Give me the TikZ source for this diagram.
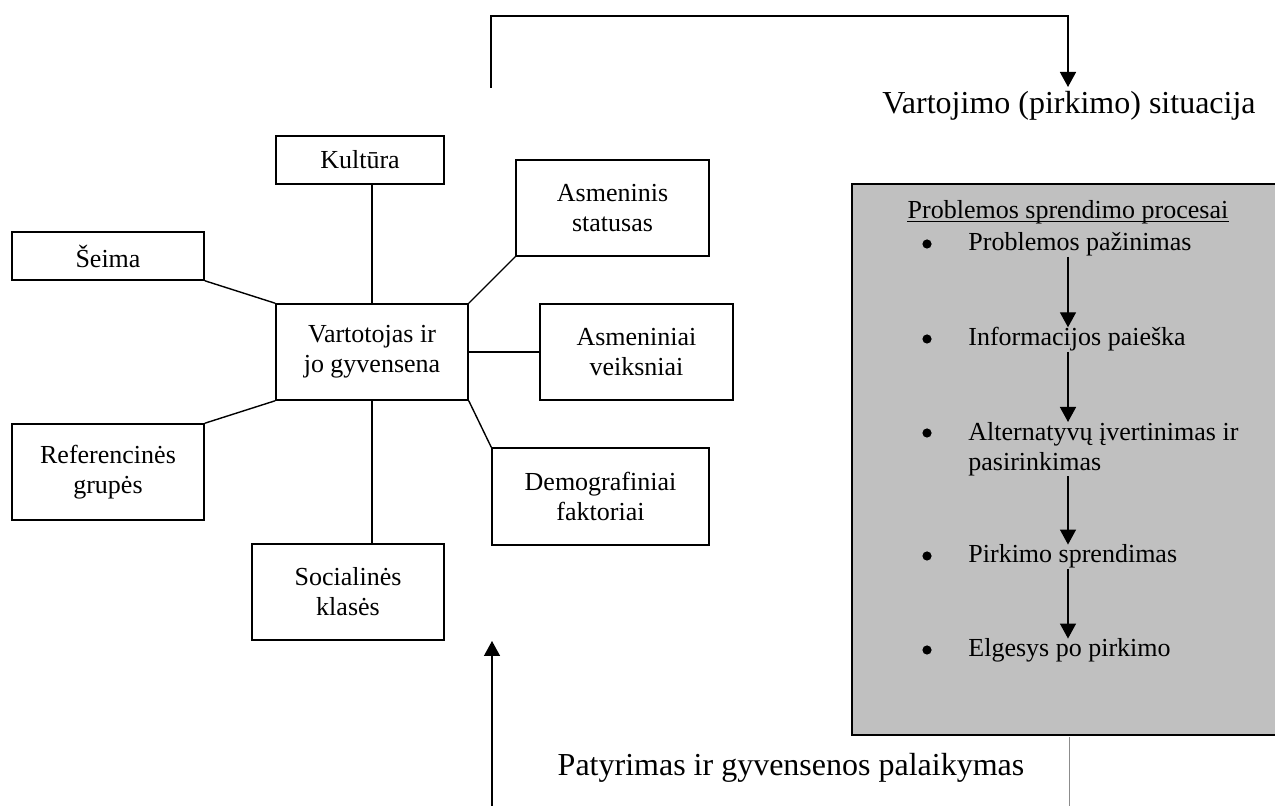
\documentclass[tikz,border=0pt]{standalone}
\usepackage{fontspec}
\setmainfont{Liberation Serif}
\usetikzlibrary{arrows.meta}
\definecolor{procgray}{HTML}{C0C0C0}
\definecolor{rulegray}{HTML}{8C8C8C}

\tikzset{
  factor/.style={draw, line width=0.75pt, inner sep=0pt, align=center,
                 font=\fontsize{13}{15}\selectfont},
  link/.style={line width=0.7pt},
  flow/.style={line width=0.7pt, -{Triangle[width=8pt,length=7.5pt]}},
  caption/.style={inner sep=0pt, font=\fontsize{16}{19}\selectfont},
  item/.style={inner sep=0pt, align=left, font=\fontsize{13}{15}\selectfont},
  dot/.style={circle, fill, inner sep=0pt, minimum size=4.6pt},
}

\begin{document}
\begin{tikzpicture}[x=0.5pt,y=-0.5pt]
\useasboundingbox (0,0) rectangle (1275,806);

% --- consumer and the factors around it ---
\node[factor, minimum width=96pt, minimum height=48pt] (cent) at (372,352) {Vartotojas ir\\jo gyvensena};
\node[factor, minimum width=84pt, minimum height=24pt] (kult) at (360,160) {Kultūra};
\node[factor, minimum width=96pt, minimum height=24pt] (seima) at (108,256) {Šeima};
\node[factor, minimum width=96.5pt, minimum height=48pt] (stat) at (612.5,208) {Asmeninis\\statusas};
\node[factor, minimum width=96.5pt, minimum height=48pt] (veik) at (636.5,352) {Asmeniniai\\veiksniai};
\node[factor, minimum width=108.5pt, minimum height=48.5pt] (demo) at (600.5,496.5) {Demografiniai\\faktoriai};
\node[factor, minimum width=96pt, minimum height=48pt] (ref) at (108,472) {Referencinės\\grupės};
\node[factor, minimum width=96pt, minimum height=48pt] (soc) at (348,592) {Socialinės\\klasės};

\draw[link] (cent.north) -- (cent.north |- kult.south);
\draw[link] (seima.south east) -- (cent.north west);
\draw[link] (cent.north east) -- (stat.south west);
\draw[link] (cent.east) -- (veik.west);
\draw[link] (cent.south east) -- (demo.north west);
\draw[link] (ref.north east) -- (cent.south west);
\draw[link] (cent.south) -- (cent.south |- soc.north);

% --- purchase situation loop ---
\coordinate (loopstart) at (491,88);
\coordinate (looptop) at (1068,16);
\coordinate (looptip) at (1068,87);
\draw[flow] (loopstart) |- (looptop) -- (looptip);
\node[caption, anchor=base] (sit) at (1069,114) {Vartojimo (pirkimo) situacija};

% --- decision process panel ---
\fill[procgray] (852,184) rectangle (1275,735);
\draw[line width=0.8pt] (1275,184) -- (852,184) -- (852,735) -- (1275,735);
\draw[rulegray, line width=0.5pt] (1069,737) -- (1069,806);

\node[item, anchor=base] (hdr) at (1068,219) {Problemos sprendimo procesai};
\draw[line width=0.6pt] ([yshift=-1.3pt]hdr.base west) -- ([yshift=-1.3pt]hdr.base east);

\node[dot] (b1) at (927,244) {};
\node[item, anchor=base west] (it1) at (968,251) {Problemos pažinimas};
\node[dot] (b2) at (927,339) {};
\node[item, anchor=base west] (it2) at (968,346) {Informacijos paieška};
\node[dot] (b3) at (927,433) {};
\node[item, anchor=north west] (it3) at (968,422) {Alternatyvų įvertinimas ir\\pasirinkimas};
\node[dot] (b4) at (927,556) {};
\node[item, anchor=base west] (it4) at (968,563) {Pirkimo sprendimas};
\node[dot] (b5) at (927,650) {};
\node[item, anchor=base west] (it5) at (968,657) {Elgesys po pirkimo};

\coordinate (ax) at (1068,0);
\draw[flow] (it1.south -| ax) -- (it2.north -| ax);
\draw[flow] (it2.south -| ax) -- (it3.north -| ax);
\draw[flow] (it3.south -| ax) -- (it4.north -| ax);
\draw[flow] (it4.south -| ax) -- (it5.north -| ax);

% --- experience feedback ---
\coordinate (upfoot) at (492,806);
\coordinate (uptip) at (492,641);
\draw[flow] (upfoot) -- (uptip);
\node[caption, anchor=base] (exp) at (791,776) {Patyrimas ir gyvensenos palaikymas};
\end{tikzpicture}
\end{document}
